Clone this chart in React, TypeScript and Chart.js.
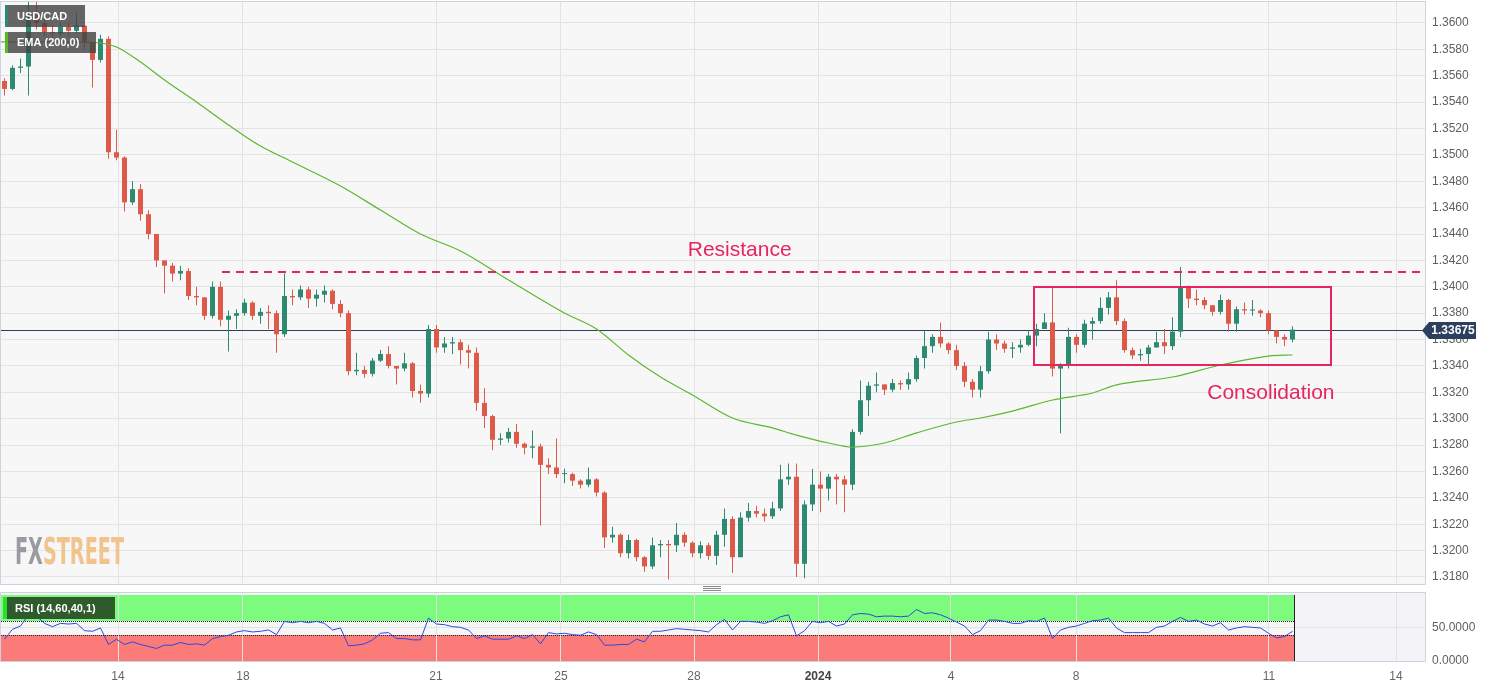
import React, { useEffect, useRef } from 'react';
import { Chart, registerables } from 'chart.js';

Chart.register(...registerables);

// ---------------- data ----------------
const firstOpen = 1.3556;

const closes = [
  1.3550, 1.3566, 1.3567, 1.3605, 1.3600, 1.3593, 1.3592, 1.3597, 1.3594, 1.3598,
  1.3585, 1.3572, 1.3588, 1.3502, 1.3498, 1.3464, 1.3474, 1.3455, 1.3440, 1.3420,
  1.3416, 1.3410, 1.3412, 1.3393, 1.3392, 1.3378, 1.3400, 1.3375, 1.3378, 1.3380,
  1.3388, 1.3378, 1.3381, 1.3380, 1.3364, 1.3393, 1.3392, 1.3398, 1.3391, 1.3394,
  1.3397, 1.3387, 1.3380, 1.3336, 1.3337, 1.3334, 1.3344, 1.3349, 1.3340, 1.3338,
  1.3342, 1.3321, 1.3319, 1.3368, 1.3354, 1.3357, 1.3358, 1.3352, 1.3350, 1.3312,
  1.3302, 1.3284, 1.3285, 1.3290, 1.3281, 1.3278, 1.3279, 1.3265, 1.3263, 1.3258,
  1.3258, 1.3253, 1.3250, 1.3254, 1.3244, 1.3210, 1.3212, 1.3198, 1.3208, 1.3195,
  1.3188, 1.3204, 1.3205, 1.3204, 1.3212, 1.3206, 1.3198, 1.3204, 1.3196, 1.3212,
  1.3224, 1.3195, 1.3225, 1.3230, 1.3228, 1.3226, 1.3232, 1.3254, 1.3256, 1.3190,
  1.3235, 1.3250, 1.3247, 1.3256, 1.3254, 1.3250, 1.3290, 1.3314, 1.3325, 1.3326,
  1.3322, 1.3327, 1.3326, 1.3330, 1.3346, 1.3355, 1.3362, 1.3357, 1.3352, 1.3340,
  1.3328, 1.3322, 1.3336, 1.3360, 1.3357, 1.3353, 1.3354, 1.3356, 1.3363, 1.3368,
  1.3373, 1.3338, 1.3340, 1.3362, 1.3356, 1.3372, 1.3374, 1.3384, 1.3392, 1.3374,
  1.3352, 1.3348, 1.3349, 1.3354, 1.3358, 1.3355, 1.3366, 1.3400, 1.3391, 1.3390,
  1.3386, 1.3381, 1.3390, 1.3372, 1.3383, 1.3382, 1.3382, 1.3380, 1.3367, 1.3362,
  1.3360, 1.33675,
];

const highs = [
  1.3558, 1.3568, 1.3573, 1.3617, 1.3617, 1.3603, 1.3598, 1.3600, 1.3600, 1.3608,
  1.3598, 1.3585, 1.3591, 1.3590, 1.3519, 1.3499, 1.3480, 1.3478, 1.3458, 1.3440,
  1.3420, 1.3418, 1.3416, 1.3414, 1.3400, 1.3392, 1.3404, 1.3404, 1.3382, 1.3383,
  1.3391, 1.3389, 1.3384, 1.3386, 1.3382, 1.3410, 1.3398, 1.3401, 1.3400, 1.3398,
  1.3401, 1.3398, 1.3390, 1.3382, 1.3350, 1.3340, 1.3346, 1.3352, 1.3355, 1.3340,
  1.3350, 1.3343, 1.3326, 1.3371, 1.3371, 1.3362, 1.3362, 1.3360, 1.3356, 1.3354,
  1.3323, 1.3303, 1.3289, 1.3293, 1.3296, 1.3282, 1.3291, 1.3281, 1.3270, 1.3285,
  1.3262, 1.3259, 1.3254, 1.3263, 1.3255, 1.3245, 1.3218, 1.3213, 1.3212, 1.3209,
  1.3196, 1.3210, 1.3208, 1.3208, 1.3221, 1.3214, 1.3207, 1.3207, 1.3206, 1.3215,
  1.3232, 1.3226, 1.3229, 1.3236, 1.3234, 1.3232, 1.3237, 1.3265, 1.3266, 1.3266,
  1.3238, 1.3262, 1.3260, 1.3258, 1.3258, 1.3257, 1.3292, 1.3329, 1.3328, 1.3335,
  1.3326, 1.3330, 1.3329, 1.3335, 1.3348, 1.3367, 1.3364, 1.3373, 1.3358, 1.3356,
  1.3343, 1.3330, 1.3340, 1.3366, 1.3364, 1.3359, 1.3358, 1.3360, 1.3367, 1.3372,
  1.3380, 1.3399, 1.3342, 1.3369, 1.3364, 1.3375, 1.3377, 1.3392, 1.3396, 1.3405,
  1.3376, 1.3354, 1.3353, 1.3356, 1.3366, 1.3368, 1.3377, 1.3415, 1.3401, 1.3398,
  1.3392, 1.3386, 1.3394, 1.3391, 1.3385, 1.3388, 1.3390, 1.3383, 1.3382, 1.3367,
  1.3364, 1.3370,
];

const lows = [
  1.3545, 1.3549, 1.3562, 1.3545, 1.3595, 1.3590, 1.3588, 1.3590, 1.3590, 1.3592,
  1.3580, 1.3551, 1.3570, 1.3497, 1.3496, 1.3457, 1.3462, 1.3450, 1.3436, 1.3415,
  1.3395, 1.3404, 1.3405, 1.3390, 1.3386, 1.3375, 1.3376, 1.3370, 1.3351, 1.3368,
  1.3378, 1.3375, 1.3372, 1.3368, 1.3350, 1.3362, 1.3386, 1.3390, 1.3384, 1.3385,
  1.3388, 1.3383, 1.3377, 1.3333, 1.3333, 1.3331, 1.3332, 1.3343, 1.3338, 1.3326,
  1.3336, 1.3316, 1.3312, 1.3316, 1.3350, 1.3350, 1.3349, 1.3341, 1.3338, 1.3306,
  1.3293, 1.3276, 1.3280, 1.3282, 1.3278, 1.3273, 1.3270, 1.3219, 1.3258, 1.3255,
  1.3251, 1.3249, 1.3247, 1.3248, 1.3241, 1.3202, 1.3206, 1.3195, 1.3194, 1.3192,
  1.3184, 1.3186, 1.3195, 1.3178, 1.3199, 1.3203, 1.3195, 1.3194, 1.3193, 1.3189,
  1.3203, 1.3183, 1.3195, 1.3222, 1.3225, 1.3222, 1.3224, 1.3230, 1.3250, 1.3180,
  1.3179, 1.3230, 1.3229, 1.3238, 1.3235, 1.3229, 1.3246, 1.3288, 1.3302, 1.3320,
  1.3318, 1.3320, 1.3322, 1.3322, 1.3328, 1.3338, 1.3350, 1.3354, 1.3349, 1.3337,
  1.3324, 1.3316, 1.3316, 1.3334, 1.3352, 1.3350, 1.3346, 1.3350, 1.3355, 1.3355,
  1.3368, 1.3332, 1.3289, 1.3338, 1.3350, 1.3354, 1.3360, 1.3372, 1.3379, 1.3371,
  1.3350, 1.3345, 1.3344, 1.3341, 1.3354, 1.3349, 1.3352, 1.3362, 1.3384, 1.3386,
  1.3383, 1.3378, 1.3379, 1.3366, 1.3366, 1.3379, 1.3378, 1.3377, 1.3364, 1.3357,
  1.3355, 1.3358,
];

const rsiValues = [
  33, 48, 53, 70, 68, 57, 52, 57, 56, 57,
  46, 45, 50, 25, 33, 25, 29, 25, 22, 19,
  24, 24, 28, 25, 26, 24, 34, 37, 39, 44,
  46, 44, 45, 47, 40, 60, 58, 60, 58, 60,
  57, 47, 50, 23, 24, 26, 32, 42, 43, 34,
  34, 32, 32, 65, 56, 55, 52, 51, 47, 34,
  38, 33, 33, 33, 38, 34, 40, 26, 43, 41,
  42, 40, 39, 44, 40, 24, 24, 25, 25, 33,
  29, 45, 45, 47, 49, 48, 47, 46, 44, 55,
  63, 47, 60, 60, 59, 57, 61, 67, 70, 38,
  46, 60, 58, 60, 53, 56, 70, 72, 71, 67,
  68, 68, 67, 68, 78, 72, 73, 70, 65, 59,
  53, 40, 46, 62, 62, 60, 57, 57, 61, 60,
  65, 34, 47, 51, 53, 57, 61, 62, 65, 50,
  43, 43, 43, 43, 51, 53, 60, 66, 60, 62,
  56, 53, 58, 47, 50, 52, 51, 50, 42, 35,
  37, 45,
];

const emaIndex = [
  -0.5, 6, 12, 14, 17, 20, 24, 28, 32, 36, 42, 47, 52, 57, 63, 70, 74, 78, 82,
  86, 91, 96, 99, 103, 106, 110, 114, 119, 122, 126, 131, 136, 139, 146, 152, 158, 161,
];
const emaValues = [
  1.35856, 1.35856, 1.35848, 1.35818, 1.35704, 1.35568, 1.35401, 1.35227, 1.35067,
  1.34946, 1.34764, 1.34582, 1.34400, 1.34271, 1.34052, 1.33801, 1.33680, 1.33483,
  1.33316, 1.33180, 1.33005, 1.32930, 1.32876, 1.32816, 1.32785, 1.32816, 1.32892,
  1.32975, 1.33005, 1.33058, 1.33142, 1.33195, 1.33256, 1.33316, 1.33407, 1.33475,
  1.33483,
];

const dateTickIndex = [14.19, 29.81, 53.94, 69.56, 86.19, 101.69, 118.31, 133.94, 158.06, 173.94];
const dateTickLabels = ['14', '18', '21', '25', '28', '2024', '4', '8', '11', '14'];

const priceTicks = [
  1.318, 1.32, 1.322, 1.324, 1.326, 1.328, 1.33, 1.332, 1.334, 1.336, 1.338,
  1.34, 1.342, 1.344, 1.346, 1.348, 1.35, 1.352, 1.354, 1.356, 1.358, 1.36,
];
const rsiTicks = [0, 50];

const lastPrice = 1.33675;
const resistanceLevel = 1.3411;
const resistanceFrom = 27.19;
const resistanceLabelAt = 91.9;
const boxFrom = 128.7;
const boxTo = 165.8;
const boxHigh = 1.34;
const boxLow = 1.3341;
const consolidationLabelAt = 158.3;
const rsiUpper = 60;
const rsiLower = 40;

// ---------------- style ----------------
const X_MIN = -0.4375;
const X_MAX = 177.5625;
const Y_MIN = 1.317468;
const Y_MAX = 1.36159;
const UP = '#2b8a6f';
const DOWN = '#dd5a4b';
const PINK = '#e8245f';
const NAVY = '#2d3f5e';
const GRID = '#e3e3e3';
const FRAME = '#cdd3e0';
const FONT = "'Liberation Sans', Arial, sans-serif";

function drawTag(ctx: CanvasRenderingContext2D, x: number, y: number, w: number, h: number, text: string, accent: string, bg: string, aw: number) {
  ctx.save();
  ctx.fillStyle = bg;
  ctx.fillRect(x, y, w, h);
  ctx.fillStyle = accent;
  ctx.fillRect(x, y, aw, h);
  ctx.fillStyle = '#ffffff';
  ctx.font = `bold 11px ${FONT}`;
  ctx.textBaseline = 'middle';
  ctx.textAlign = 'left';
  ctx.fillText(text, x + 12, y + h / 2 + 0.5);
  ctx.restore();
}

function frame(ctx: CanvasRenderingContext2D, a: any) {
  ctx.save();
  ctx.strokeStyle = FRAME;
  ctx.lineWidth = 1;
  ctx.strokeRect(a.left - 0.5, a.top - 0.5, a.right - a.left + 1, a.bottom - a.top + 1);
  ctx.restore();
}

function noPad(s: any) {
  s.paddingTop = 0;
  s.paddingBottom = 0;
  s.paddingLeft = 0;
  s.paddingRight = 0;
}

export default function App() {
  const mainRef = useRef<HTMLCanvasElement>(null);
  const rsiRef = useRef<HTMLCanvasElement>(null);

  useEffect(() => {
    const opens = closes.map((c, i) => (i === 0 ? firstOpen : closes[i - 1]));
    const colors = closes.map((c, i) => (c >= opens[i] ? UP : DOWN));
    const bodyData = closes.map((c, i) => ({ x: i, y: [Math.min(opens[i], c), Math.max(opens[i], c)] }));
    const wickData = closes.map((c, i) => ({ x: i, y: [lows[i], highs[i]] }));
    const emaData = emaIndex.map((x, i) => ({ x, y: emaValues[i] }));
    const rsiData = rsiValues.map((v, i) => ({ x: i, y: v }));
    const lastIndex = closes.length - 1;

    const mainPlugin = {
      id: 'mainDeco',
      beforeDraw(chart: any) {
        const { ctx, chartArea: a } = chart;
        ctx.save();
        ctx.fillStyle = '#f7f7f7';
        ctx.fillRect(a.left, a.top, a.right - a.left, a.bottom - a.top);
        ctx.restore();
      },
      beforeDatasetsDraw(chart: any) {
        const { ctx, chartArea: a, scales } = chart;
        // watermark
        ctx.save();
        ctx.font = `bold 37px 'Liberation Sans Narrow', 'DejaVu Sans Condensed', sans-serif`;
        const wFX = ctx.measureText('FX').width;
        const wST = ctx.measureText('STREET').width;
        const sx = 109 / (wFX + wST);
        ctx.translate(15, 564);
        ctx.scale(sx, 1);
        ctx.textBaseline = 'alphabetic';
        ctx.fillStyle = '#9a9aa1';
        ctx.fillText('FX', 0, 0);
        ctx.fillStyle = '#f0c48c';
        ctx.fillText('STREET', wFX, 0);
        ctx.restore();
        // last price line
        const py = Math.round(scales.y.getPixelForValue(lastPrice)) + 0.5;
        ctx.save();
        ctx.strokeStyle = NAVY;
        ctx.lineWidth = 1;
        ctx.beginPath();
        ctx.moveTo(a.left, py);
        ctx.lineTo(a.right, py);
        ctx.stroke();
        ctx.restore();
      },
      afterDatasetsDraw(chart: any) {
        const { ctx, chartArea: a, scales } = chart;
        const xs = scales.x;
        const ys = scales.y;
        ctx.save();
        // resistance
        const ry = Math.round(ys.getPixelForValue(resistanceLevel));
        ctx.strokeStyle = PINK;
        ctx.lineWidth = 2;
        ctx.setLineDash([8, 6]);
        ctx.beginPath();
        ctx.moveTo(xs.getPixelForValue(resistanceFrom), ry);
        ctx.lineTo(a.right + 1, ry);
        ctx.stroke();
        ctx.setLineDash([]);
        ctx.fillStyle = PINK;
        ctx.font = `21px ${FONT}`;
        ctx.textAlign = 'center';
        ctx.textBaseline = 'middle';
        ctx.fillText('Resistance', xs.getPixelForValue(resistanceLabelAt), ry - 22);
        // consolidation box
        const bx1 = Math.round(xs.getPixelForValue(boxFrom));
        const bx2 = Math.round(xs.getPixelForValue(boxTo));
        const by1 = Math.round(ys.getPixelForValue(boxHigh));
        const by2 = Math.round(ys.getPixelForValue(boxLow));
        ctx.lineWidth = 2;
        ctx.strokeRect(bx1, by1, bx2 - bx1, by2 - by1);
        ctx.fillText('Consolidation', xs.getPixelForValue(consolidationLabelAt), by2 + 28);
        ctx.restore();
      },
      afterDraw(chart: any) {
        const { ctx, chartArea: a, scales } = chart;
        frame(ctx, a);
        drawTag(ctx, 5, 5, 80, 22, 'USD/CAD', UP, 'rgba(68,68,68,0.82)', 3);
        drawTag(ctx, 5, 32, 91, 21, 'EMA (200,0)', '#58b82a', 'rgba(68,68,68,0.82)', 3);
        // price label on axis
        const py = Math.round(scales.y.getPixelForValue(lastPrice)) + 0.5;
        ctx.save();
        ctx.fillStyle = NAVY;
        ctx.beginPath();
        ctx.moveTo(a.right - 3, py);
        ctx.lineTo(a.right + 4, py - 8.5);
        ctx.lineTo(a.right + 51, py - 8.5);
        ctx.lineTo(a.right + 51, py + 8.5);
        ctx.lineTo(a.right + 4, py + 8.5);
        ctx.closePath();
        ctx.fill();
        ctx.fillStyle = '#ffffff';
        ctx.font = `bold 12px ${FONT}`;
        ctx.textAlign = 'center';
        ctx.textBaseline = 'middle';
        ctx.fillText(lastPrice.toFixed(5), a.right + 28, py + 0.5);
        ctx.restore();
      },
    };

    const rsiPlugin = {
      id: 'rsiDeco',
      beforeDraw(chart: any) {
        const { ctx, chartArea: a, scales } = chart;
        const xs = scales.x;
        const ys = scales.y;
        const xe = Math.round(xs.getPixelForValue(lastIndex)) + 1;
        ctx.save();
        ctx.fillStyle = '#f4f4f6';
        ctx.fillRect(a.left, a.top, a.right - a.left, a.bottom - a.top);
        const g1 = Math.round(ys.getPixelForValue(100));
        const g2 = Math.round(ys.getPixelForValue(rsiUpper));
        const r1 = Math.round(ys.getPixelForValue(rsiLower));
        const r2 = Math.round(ys.getPixelForValue(0));
        ctx.fillStyle = '#f6f6f6';
        ctx.fillRect(a.left, g2, xe - a.left, r1 - g2);
        ctx.fillStyle = '#7cfb7c';
        ctx.fillRect(a.left, g1, xe - a.left, g2 - g1);
        ctx.fillStyle = '#fb7b79';
        ctx.fillRect(a.left, r1, xe - a.left, r2 - r1);
        ctx.restore();
      },
      beforeDatasetsDraw(chart: any) {
        const { ctx, chartArea: a, scales } = chart;
        const xs = scales.x;
        const ys = scales.y;
        const xe = Math.round(xs.getPixelForValue(lastIndex)) + 1;
        ctx.save();
        ctx.strokeStyle = '#222';
        ctx.lineWidth = 1;
        ctx.setLineDash([1, 1]);
        [rsiUpper, rsiLower].forEach((v) => {
          const y = Math.round(ys.getPixelForValue(v)) + 0.5;
          ctx.beginPath();
          ctx.moveTo(a.left, y);
          ctx.lineTo(xe, y);
          ctx.stroke();
        });
        ctx.setLineDash([]);
        ctx.beginPath();
        ctx.moveTo(xe + 0.5, Math.round(ys.getPixelForValue(100)));
        ctx.lineTo(xe + 0.5, Math.round(ys.getPixelForValue(0)));
        ctx.stroke();
        ctx.restore();
      },
      afterDraw(chart: any) {
        const { ctx, chartArea: a } = chart;
        frame(ctx, a);
        drawTag(ctx, 3, 9, 112, 22, 'RSI (14,60,40,1)', '#28e028', '#2f5b2c', 4);
      },
    };

    const mainChart = new Chart(mainRef.current as HTMLCanvasElement, {
      type: 'bar',
      data: {
        datasets: [
          {
            type: 'line',
            label: 'EMA',
            data: emaData,
            borderColor: '#5cb82e',
            borderWidth: 1.2,
            pointRadius: 0,
            cubicInterpolationMode: 'monotone',
            order: 0,
          } as any,
          {
            type: 'bar',
            label: 'body',
            data: bodyData,
            backgroundColor: colors,
            borderWidth: 0,
            barThickness: 5,
            minBarLength: 1,
            grouped: false,
            inflateAmount: 0,
            order: 1,
          } as any,
          {
            type: 'bar',
            label: 'wick',
            data: wickData,
            backgroundColor: colors,
            borderWidth: 0,
            barThickness: 1,
            grouped: false,
            inflateAmount: 0,
            order: 2,
          } as any,
        ],
      },
      options: {
        responsive: false,
        animation: false,
        devicePixelRatio: 1,
        events: [],
        layout: { padding: { left: 1, top: 2, right: 0, bottom: 4 } },
        plugins: { legend: { display: false }, tooltip: { enabled: false } },
        scales: {
          x: {
            type: 'linear',
            min: X_MIN,
            max: X_MAX,
            offset: false,
            afterBuildTicks: (s: any) => {
              s.ticks = dateTickIndex.map((v) => ({ value: v }));
            },
            ticks: { display: false },
            grid: { color: GRID, drawTicks: false, offset: false },
            border: { display: false },
            afterFit: (s: any) => {
              s.height = 0;
              noPad(s);
            },
          },
          y: {
            type: 'linear',
            position: 'right',
            min: Y_MIN,
            max: Y_MAX,
            afterBuildTicks: (s: any) => {
              s.ticks = priceTicks.map((v) => ({ value: v }));
            },
            ticks: {
              color: '#5f5f5f',
              padding: 7,
              font: { size: 12, family: FONT },
              callback: (v: any) => Number(v).toFixed(4),
            },
            grid: { color: GRID, drawTicks: false },
            border: { display: false },
            afterFit: (s: any) => {
              s.width = 76;
              noPad(s);
            },
          },
        },
      } as any,
      plugins: [mainPlugin],
    });

    const boldIdx = dateTickLabels.indexOf('2024');
    const rsiChart = new Chart(rsiRef.current as HTMLCanvasElement, {
      type: 'line',
      data: {
        datasets: [
          {
            label: 'RSI',
            data: rsiData,
            borderColor: '#2a48e4',
            borderWidth: 1,
            pointRadius: 0,
            tension: 0,
          },
        ],
      },
      options: {
        responsive: false,
        animation: false,
        devicePixelRatio: 1,
        events: [],
        layout: { padding: { left: 1, top: 5, right: 0, bottom: 0 } },
        plugins: { legend: { display: false }, tooltip: { enabled: false } },
        scales: {
          x: {
            type: 'linear',
            min: X_MIN,
            max: X_MAX,
            offset: false,
            afterBuildTicks: (s: any) => {
              s.ticks = dateTickIndex.map((v) => ({ value: v }));
            },
            ticks: {
              autoSkip: false,
              maxRotation: 0,
              padding: 8,
              color: (c: any) => (c.index === boldIdx ? '#444' : '#666'),
              font: (c: any) => ({ size: 12, family: FONT, weight: c.index === boldIdx ? 'bold' : 'normal' }),
              callback: (_v: any, i: number) => dateTickLabels[i],
            },
            grid: { color: GRID, drawTicks: false, offset: false },
            border: { display: false },
            afterFit: (s: any) => {
              s.height = 27;
              noPad(s);
            },
          },
          y: {
            type: 'linear',
            position: 'right',
            min: 0,
            max: 103,
            afterBuildTicks: (s: any) => {
              s.ticks = rsiTicks.map((v) => ({ value: v }));
            },
            ticks: {
              color: '#5f5f5f',
              padding: 7,
              font: { size: 12, family: FONT },
              callback: (v: any) => Number(v).toFixed(4),
            },
            grid: { color: GRID, drawTicks: false },
            border: { display: false },
            afterFit: (s: any) => {
              s.width = 76;
              noPad(s);
            },
          },
        },
      } as any,
      plugins: [rsiPlugin],
    });

    return () => {
      mainChart.destroy();
      rsiChart.destroy();
    };
  }, []);

  const handleLine = (top: number) => (
    <div style={{ position: 'absolute', left: 703, top, width: 18, height: 1, background: '#8a8a8a' }} />
  );

  return (
    <div style={{ position: 'absolute', left: 0, top: 0, width: 1501, height: 688, background: '#ffffff', overflow: 'hidden' }}>
      <canvas ref={mainRef} width={1501} height={588} style={{ position: 'absolute', left: 0, top: 0, display: 'block' }} />
      <canvas ref={rsiRef} width={1501} height={100} style={{ position: 'absolute', left: 0, top: 588, display: 'block' }} />
      {handleLine(586)}
      {handleLine(588)}
      {handleLine(590)}
    </div>
  );
}
